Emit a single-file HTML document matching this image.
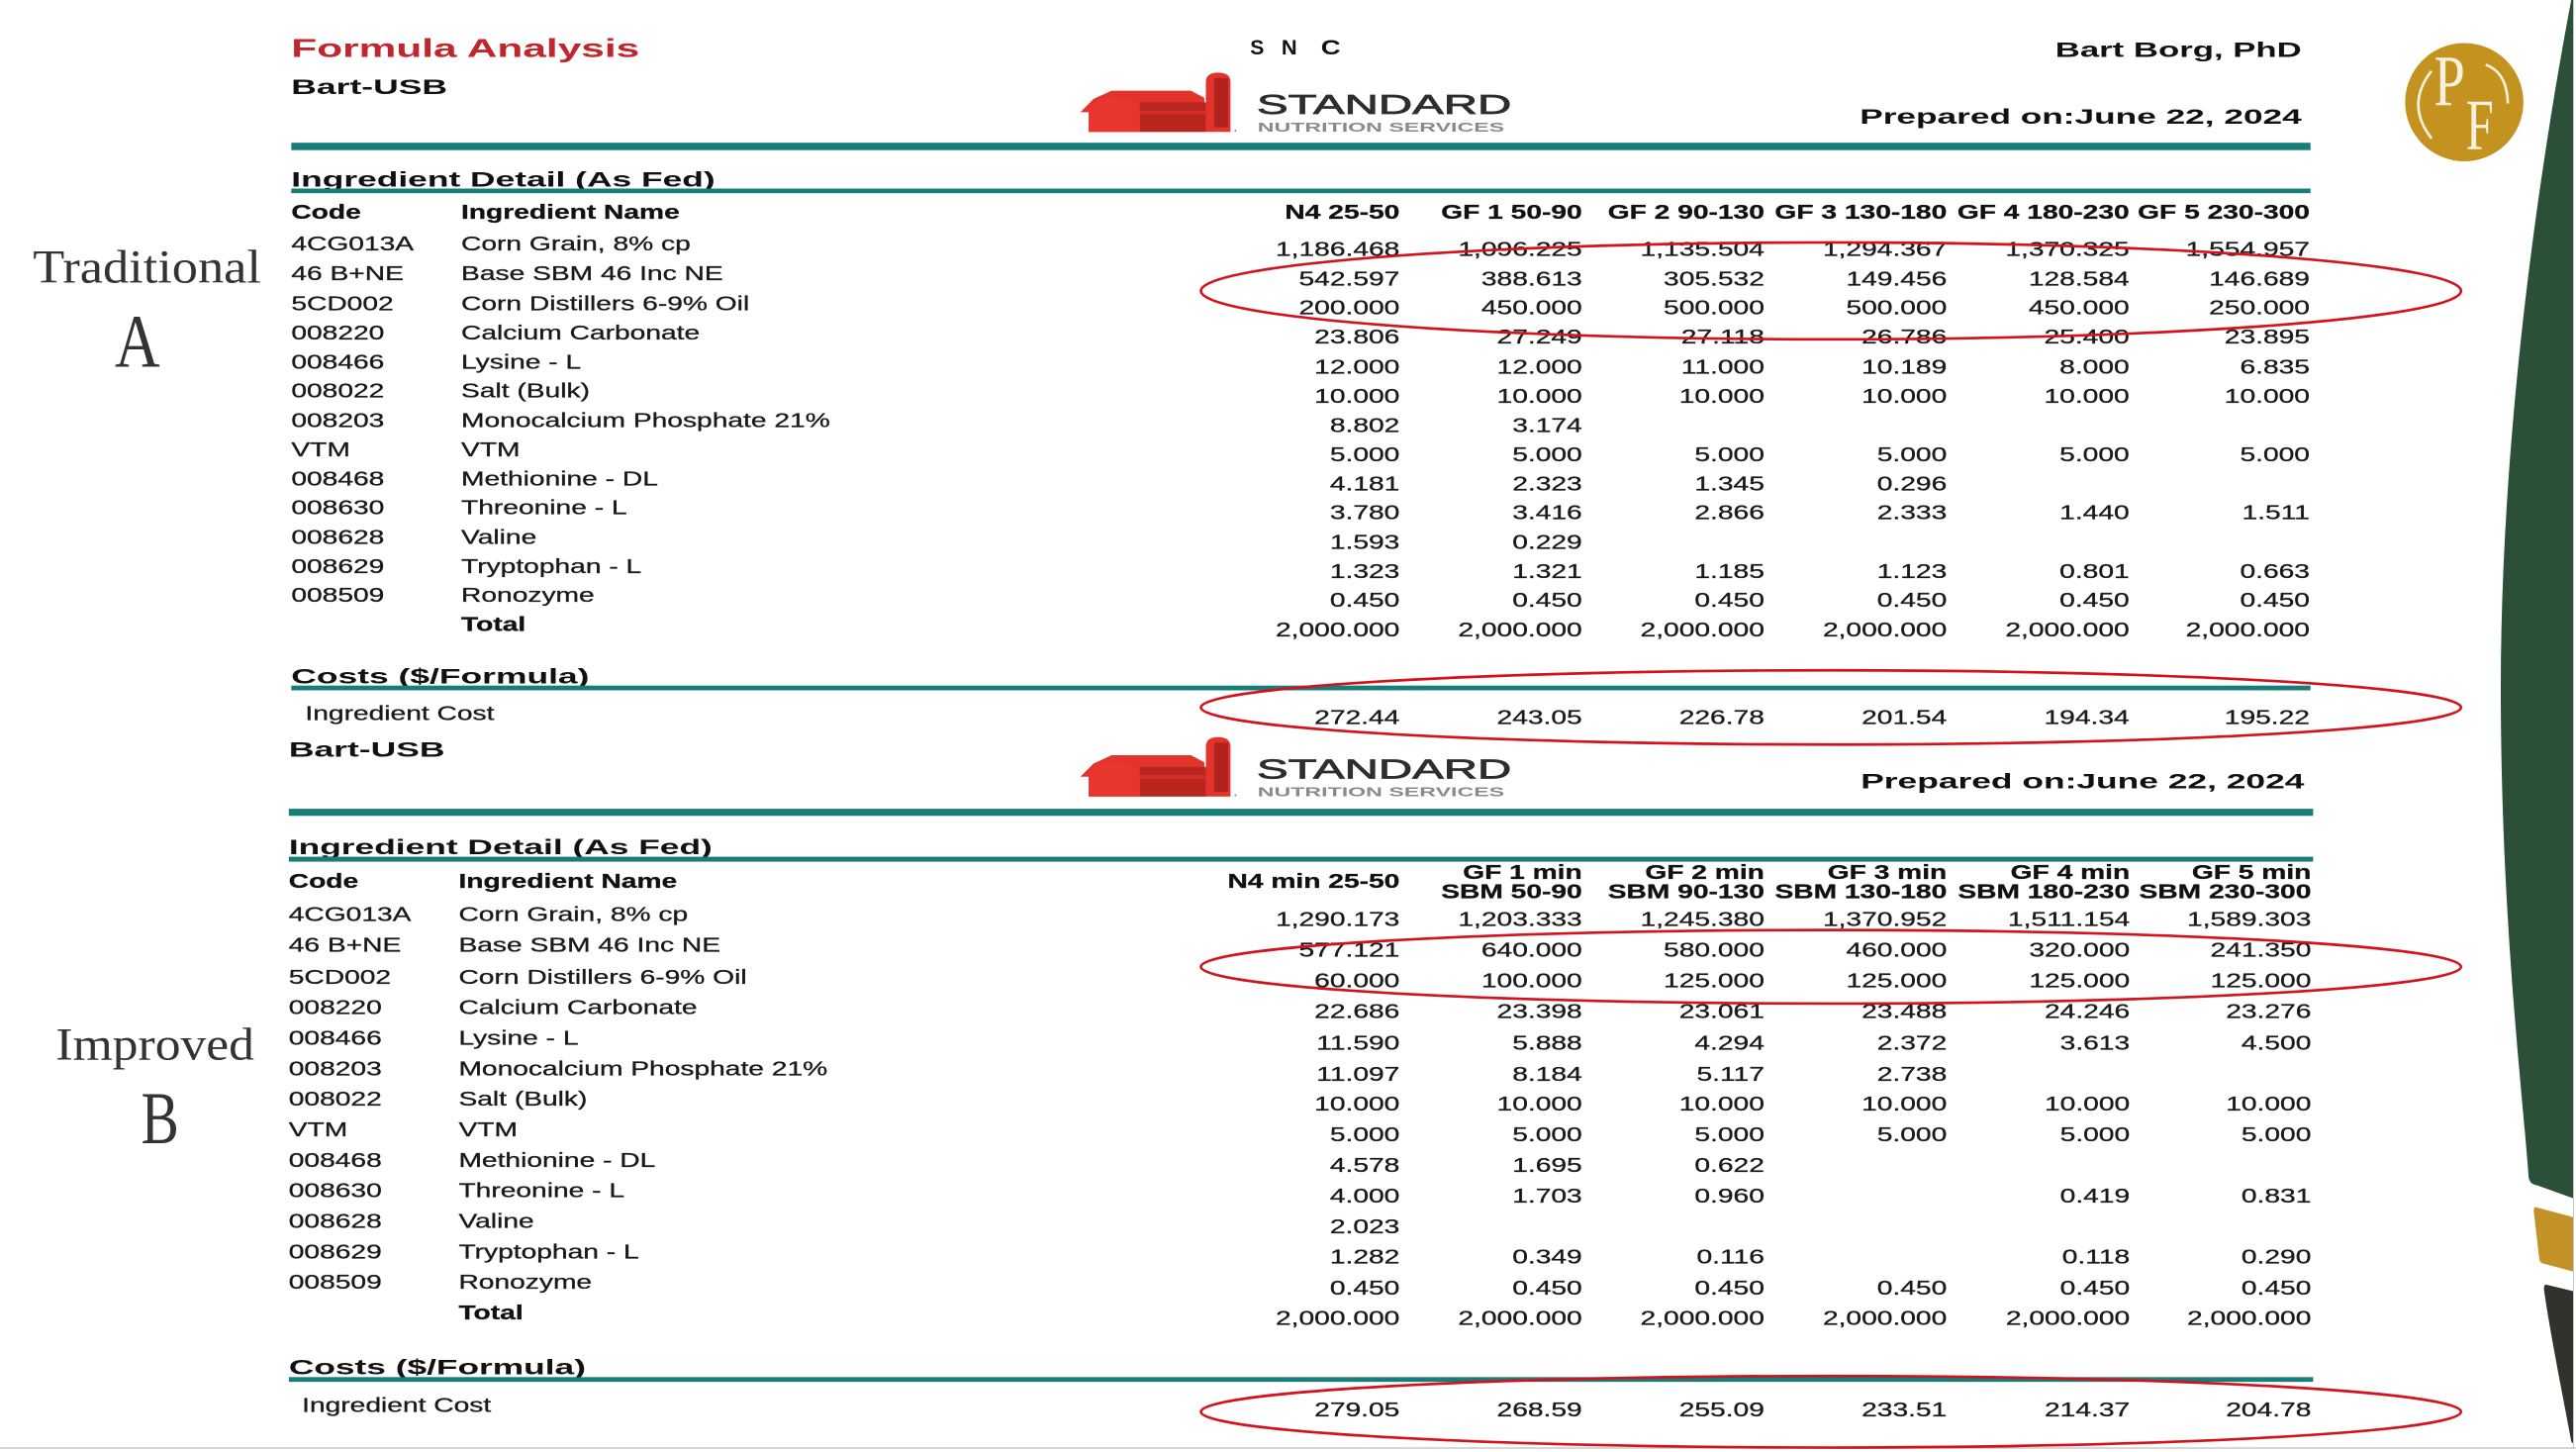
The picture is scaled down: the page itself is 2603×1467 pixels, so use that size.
<!DOCTYPE html>
<html>
<head>
<meta charset="utf-8">
<style>
html,body{margin:0;padding:0;background:#fff;}
svg{display:block;}
text{font-family:"Liberation Sans",Arial,sans-serif;}
.serif{font-family:"Liberation Serif","Times New Roman",serif;}
</style>
</head>
<body>
<svg width="2603" height="1467" viewBox="0 0 1568 884" preserveAspectRatio="none" xmlns="http://www.w3.org/2000/svg">
<rect x="0" y="0" width="1568" height="884" fill="#ffffff"/>

<!-- Right decorations -->
<path d="M1565.1,0 C1550,80 1522,250 1522.2,421.7 C1522.5,560 1535,660 1539.2,716.9 Q1540,721 1544,721.5 L1566.3,729.5 L1566.3,0 Z" fill="#2c4f38"/>
<path d="M1543.5,734.9 L1566.3,741 L1566.3,774.1 L1547.5,769.1 Q1545.8,768.5 1545.6,766 L1542.3,737.5 Q1542.2,734.7 1543.5,734.9 Z" fill="#c39227"/>
<path d="M1549.8,782.1 L1566.3,786.1 L1566.3,879 L1565.1,877.5 C1560,850 1552,810 1548.5,785 Q1548.4,782 1549.8,782.1 Z" fill="#33312c"/>
<line x1="1566.5" y1="0" x2="1566.5" y2="881.5" stroke="#c8c8c8" stroke-width="0.6"/>
<line x1="0" y1="881.6" x2="1568" y2="881.6" stroke="#bdbdbd" stroke-width="0.7"/>

<!-- PF logo -->
<circle cx="1500" cy="62.2" r="36" fill="#c4921f"/>
<text class="serif" x="1481.5" y="64.3" font-size="44" fill="#f7f0dc" textLength="19" lengthAdjust="spacingAndGlyphs">P</text>
<text class="serif" x="1500.9" y="90.7" font-size="44" fill="#f7f0dc" textLength="17" lengthAdjust="spacingAndGlyphs">F</text>
<path d="M1480,43.2 Q1464,63.8 1480.1,84.3" stroke="#f7f0dc" stroke-width="1.6" fill="none"/>
<path d="M1513,39.5 Q1526,44 1526.5,63" stroke="#f7f0dc" stroke-width="1.6" fill="none"/>

<!-- Left labels -->
<text class="serif" x="20" y="172" font-size="28.9" fill="#333" textLength="139" lengthAdjust="spacingAndGlyphs">Traditional</text>
<text class="serif" x="69.9" y="223.2" font-size="46" fill="#333" textLength="27.5" lengthAdjust="spacingAndGlyphs">A</text>
<text class="serif" x="34" y="645.1" font-size="28" fill="#333" textLength="120.8" lengthAdjust="spacingAndGlyphs">Improved</text>
<text class="serif" x="85.9" y="696" font-size="45" fill="#333" textLength="23" lengthAdjust="spacingAndGlyphs">B</text>

<!-- Barn logo definition -->
<defs>
<g id="barn">
  <polygon points="657.6,68.3 665.7,60.2 676.7,55.2 724.9,55.2 733,59.5 734,80.3 662.7,80.3 662.7,68.3" fill="#e3342c"/>
  <rect x="693.8" y="62.3" width="40.2" height="18" fill="#b8261f"/>
  <rect x="693.8" y="67.3" width="40.2" height="2.2" fill="#d42f27"/>
  <path d="M662.7,80.3 V66 Q666,60 676.7,59.5 Q689,60 693.8,66 V80.3 Z" fill="#e8352d"/>
  <path d="M734,80.3 V50 Q734,44.2 741.5,44.2 Q749,44.2 749,50 V80.3 Z" fill="#e3342c"/>
  <rect x="739" y="47.5" width="8.5" height="30" fill="#b3231d"/>
  <circle cx="752" cy="79.6" r="0.6" fill="#888"/>
  <text x="765" y="69.3" font-size="16.9" fill="#2e2e2e" stroke="#2e2e2e" stroke-width="0.45" textLength="155" lengthAdjust="spacingAndGlyphs">STANDARD</text>
  <text x="765.5" y="80.3" font-size="7.8" font-weight="bold" fill="#8a8a8a" textLength="150.2" lengthAdjust="spacingAndGlyphs">NUTRITION SERVICES</text>
</g>
</defs>

<!-- ===== TOP HEADER ===== -->
<text x="177.3" y="34.6" font-size="15.6" font-weight="bold" fill="#c0272d" textLength="212" lengthAdjust="spacingAndGlyphs">Formula Analysis</text>
<text x="177.3" y="57.2" font-size="12.6" font-weight="bold" fill="#111" textLength="95" lengthAdjust="spacingAndGlyphs">Bart-USB</text>
<text x="761" y="33.2" font-size="13" font-weight="bold" fill="#111" textLength="8.5" lengthAdjust="spacingAndGlyphs">S</text>
<text x="780" y="33.2" font-size="13" font-weight="bold" fill="#111" textLength="9.5" lengthAdjust="spacingAndGlyphs">N</text>
<text x="804" y="33.2" font-size="13" font-weight="bold" fill="#111" textLength="12" lengthAdjust="spacingAndGlyphs">C</text>
<text x="1251" y="34.6" font-size="12.6" font-weight="bold" fill="#111" textLength="150" lengthAdjust="spacingAndGlyphs">Bart Borg, PhD</text>
<text x="1132" y="75.3" font-size="12.6" font-weight="bold" fill="#111" textLength="269" lengthAdjust="spacingAndGlyphs">Prepared on:June 22, 2024</text>
<use href="#barn"/>
<rect x="177.3" y="86.9" width="1229.1" height="4.5" fill="#167d78"/>

<text x="177.3" y="113.7" font-size="13" font-weight="bold" fill="#111" textLength="258" lengthAdjust="spacingAndGlyphs">Ingredient Detail (As Fed)</text>
<rect x="177.3" y="114.8" width="1229.1" height="2.8" fill="#167d78"/>

<text x="177.3" y="416.1" font-size="13" font-weight="bold" fill="#111" textLength="181.4" lengthAdjust="spacingAndGlyphs">Costs ($/Formula)</text>
<rect x="177.3" y="417.4" width="1229.1" height="2.9" fill="#167d78"/>

<g transform="scale(1.415 1)" font-size="12" fill="#1a1a1a" stroke="#1a1a1a" stroke-width="0.18">
  <text x="125.3" y="133.3" font-weight="bold" fill="#111">Code</text>
  <text x="198.4" y="133.3" font-weight="bold" fill="#111">Ingredient Name</text>
  <text y="133.3" font-weight="bold" fill="#111" text-anchor="end"><tspan x="602.1">N4 25-50</tspan><tspan x="680.6">GF 1 50-90</tspan><tspan x="759.0">GF 2 90-130</tspan><tspan x="837.5">GF 3 130-180</tspan><tspan x="916.0">GF 4 180-230</tspan><tspan x="993.6">GF 5 230-300</tspan></text>

  <text y="152.4"><tspan x="125.3">4CG013A</tspan><tspan x="198.4">Corn Grain, 8% cp</tspan></text>
  <text y="170.4"><tspan x="125.3">46 B+NE</tspan><tspan x="198.4">Base SBM 46 Inc NE</tspan></text>
  <text y="188.8"><tspan x="125.3">5CD002</tspan><tspan x="198.4">Corn Distillers 6-9% Oil</tspan></text>
  <text y="206.7"><tspan x="125.3">008220</tspan><tspan x="198.4">Calcium Carbonate</tspan></text>
  <text y="224.5"><tspan x="125.3">008466</tspan><tspan x="198.4">Lysine - L</tspan></text>
  <text y="242.0"><tspan x="125.3">008022</tspan><tspan x="198.4">Salt (Bulk)</tspan></text>
  <text y="260.0"><tspan x="125.3">008203</tspan><tspan x="198.4">Monocalcium Phosphate 21%</tspan></text>
  <text y="277.7"><tspan x="125.3">VTM</tspan><tspan x="198.4">VTM</tspan></text>
  <text y="295.5"><tspan x="125.3">008468</tspan><tspan x="198.4">Methionine - DL</tspan></text>
  <text y="313.2"><tspan x="125.3">008630</tspan><tspan x="198.4">Threonine - L</tspan></text>
  <text y="331.0"><tspan x="125.3">008628</tspan><tspan x="198.4">Valine</tspan></text>
  <text y="348.8"><tspan x="125.3">008629</tspan><tspan x="198.4">Tryptophan - L</tspan></text>
  <text y="366.5"><tspan x="125.3">008509</tspan><tspan x="198.4">Ronozyme</tspan></text>
  <text x="198.4" y="384.3" font-weight="bold" fill="#111">Total</text>

  <text y="155.8" text-anchor="end"><tspan x="602.1">1,186.468</tspan><tspan x="680.6">1,096.225</tspan><tspan x="759.0">1,135.504</tspan><tspan x="837.5">1,294.367</tspan><tspan x="916.0">1,370.325</tspan><tspan x="993.6">1,554.957</tspan></text>
  <text y="173.8" text-anchor="end"><tspan x="602.1">542.597</tspan><tspan x="680.6">388.613</tspan><tspan x="759.0">305.532</tspan><tspan x="837.5">149.456</tspan><tspan x="916.0">128.584</tspan><tspan x="993.6">146.689</tspan></text>
  <text y="191.3" text-anchor="end"><tspan x="602.1">200.000</tspan><tspan x="680.6">450.000</tspan><tspan x="759.0">500.000</tspan><tspan x="837.5">500.000</tspan><tspan x="916.0">450.000</tspan><tspan x="993.6">250.000</tspan></text>
  <text y="209.1" text-anchor="end"><tspan x="602.1">23.806</tspan><tspan x="680.6">27.249</tspan><tspan x="759.0">27.118</tspan><tspan x="837.5">26.786</tspan><tspan x="916.0">25.400</tspan><tspan x="993.6">23.895</tspan></text>
  <text y="227.5" text-anchor="end"><tspan x="602.1">12.000</tspan><tspan x="680.6">12.000</tspan><tspan x="759.0">11.000</tspan><tspan x="837.5">10.189</tspan><tspan x="916.0">8.000</tspan><tspan x="993.6">6.835</tspan></text>
  <text y="245.3" text-anchor="end"><tspan x="602.1">10.000</tspan><tspan x="680.6">10.000</tspan><tspan x="759.0">10.000</tspan><tspan x="837.5">10.000</tspan><tspan x="916.0">10.000</tspan><tspan x="993.6">10.000</tspan></text>
  <text y="263.0" text-anchor="end"><tspan x="602.1">8.802</tspan><tspan x="680.6">3.174</tspan></text>
  <text y="280.7" text-anchor="end"><tspan x="602.1">5.000</tspan><tspan x="680.6">5.000</tspan><tspan x="759.0">5.000</tspan><tspan x="837.5">5.000</tspan><tspan x="916.0">5.000</tspan><tspan x="993.6">5.000</tspan></text>
  <text y="298.5" text-anchor="end"><tspan x="602.1">4.181</tspan><tspan x="680.6">2.323</tspan><tspan x="759.0">1.345</tspan><tspan x="837.5">0.296</tspan></text>
  <text y="316.2" text-anchor="end"><tspan x="602.1">3.780</tspan><tspan x="680.6">3.416</tspan><tspan x="759.0">2.866</tspan><tspan x="837.5">2.333</tspan><tspan x="916.0">1.440</tspan><tspan x="993.6">1.511</tspan></text>
  <text y="334.0" text-anchor="end"><tspan x="602.1">1.593</tspan><tspan x="680.6">0.229</tspan></text>
  <text y="351.8" text-anchor="end"><tspan x="602.1">1.323</tspan><tspan x="680.6">1.321</tspan><tspan x="759.0">1.185</tspan><tspan x="837.5">1.123</tspan><tspan x="916.0">0.801</tspan><tspan x="993.6">0.663</tspan></text>
  <text y="369.5" text-anchor="end"><tspan x="602.1">0.450</tspan><tspan x="680.6">0.450</tspan><tspan x="759.0">0.450</tspan><tspan x="837.5">0.450</tspan><tspan x="916.0">0.450</tspan><tspan x="993.6">0.450</tspan></text>
  <text y="387.4" text-anchor="end"><tspan x="602.1">2,000.000</tspan><tspan x="680.6">2,000.000</tspan><tspan x="759.0">2,000.000</tspan><tspan x="837.5">2,000.000</tspan><tspan x="916.0">2,000.000</tspan><tspan x="993.6">2,000.000</tspan></text>

  <text x="131.3" y="438.3">Ingredient Cost</text>
  <text y="440.8" text-anchor="end"><tspan x="602.1">272.44</tspan><tspan x="680.6">243.05</tspan><tspan x="759.0">226.78</tspan><tspan x="837.5">201.54</tspan><tspan x="916.0">194.34</tspan><tspan x="993.6">195.22</tspan></text>
</g>

<!-- ===== BOTTOM HEADER ===== -->
<text x="175.8" y="460.7" font-size="12.6" font-weight="bold" fill="#111" textLength="95" lengthAdjust="spacingAndGlyphs">Bart-USB</text>
<text x="1132.6" y="479.9" font-size="12.6" font-weight="bold" fill="#111" textLength="270" lengthAdjust="spacingAndGlyphs">Prepared on:June 22, 2024</text>
<use href="#barn" transform="translate(0 404.6)"/>
<rect x="175.8" y="492.4" width="1232.2" height="4.3" fill="#167d78"/>

<text x="175.8" y="520.0" font-size="13" font-weight="bold" fill="#111" textLength="257.8" lengthAdjust="spacingAndGlyphs">Ingredient Detail (As Fed)</text>
<rect x="175.8" y="521.6" width="1232.2" height="3" fill="#167d78"/>

<text x="175.8" y="836.6" font-size="13" font-weight="bold" fill="#111" textLength="180.8" lengthAdjust="spacingAndGlyphs">Costs ($/Formula)</text>
<rect x="175.8" y="838.4" width="1232.2" height="2.9" fill="#167d78"/>

<g transform="scale(1.415 1)" font-size="12" fill="#1a1a1a" stroke="#1a1a1a" stroke-width="0.18">
  <text x="124.2" y="540.6" font-weight="bold" fill="#111">Code</text>
  <text x="197.3" y="540.6" font-weight="bold" fill="#111">Ingredient Name</text>
  <text x="602.1" y="540.6" font-weight="bold" fill="#111" text-anchor="end">N4 min 25-50</text>
  <text y="535.0" font-weight="bold" fill="#111" text-anchor="end"><tspan x="680.6">GF 1 min</tspan><tspan x="759.0">GF 2 min</tspan><tspan x="837.5">GF 3 min</tspan><tspan x="916.2">GF 4 min</tspan><tspan x="994.2">GF 5 min</tspan></text>
  <text y="546.8" font-weight="bold" fill="#111" text-anchor="end"><tspan x="680.6">SBM 50-90</tspan><tspan x="759.0">SBM 90-130</tspan><tspan x="837.5">SBM 130-180</tspan><tspan x="916.2">SBM 180-230</tspan><tspan x="994.2">SBM 230-300</tspan></text>

  <text y="560.7"><tspan x="124.2">4CG013A</tspan><tspan x="197.3">Corn Grain, 8% cp</tspan></text>
  <text y="579.4"><tspan x="124.2">46 B+NE</tspan><tspan x="197.3">Base SBM 46 Inc NE</tspan></text>
  <text y="598.9"><tspan x="124.2">5CD002</tspan><tspan x="197.3">Corn Distillers 6-9% Oil</tspan></text>
  <text y="617.4"><tspan x="124.2">008220</tspan><tspan x="197.3">Calcium Carbonate</tspan></text>
  <text y="636.0"><tspan x="124.2">008466</tspan><tspan x="197.3">Lysine - L</tspan></text>
  <text y="654.7"><tspan x="124.2">008203</tspan><tspan x="197.3">Monocalcium Phosphate 21%</tspan></text>
  <text y="673.2"><tspan x="124.2">008022</tspan><tspan x="197.3">Salt (Bulk)</tspan></text>
  <text y="691.8"><tspan x="124.2">VTM</tspan><tspan x="197.3">VTM</tspan></text>
  <text y="710.5"><tspan x="124.2">008468</tspan><tspan x="197.3">Methionine - DL</tspan></text>
  <text y="728.9"><tspan x="124.2">008630</tspan><tspan x="197.3">Threonine - L</tspan></text>
  <text y="747.6"><tspan x="124.2">008628</tspan><tspan x="197.3">Valine</tspan></text>
  <text y="766.3"><tspan x="124.2">008629</tspan><tspan x="197.3">Tryptophan - L</tspan></text>
  <text y="784.7"><tspan x="124.2">008509</tspan><tspan x="197.3">Ronozyme</tspan></text>
  <text x="197.3" y="803.4" font-weight="bold" fill="#111">Total</text>

  <text y="563.8" text-anchor="end"><tspan x="602.1">1,290.173</tspan><tspan x="680.6">1,203.333</tspan><tspan x="759.0">1,245.380</tspan><tspan x="837.5">1,370.952</tspan><tspan x="916.2">1,511.154</tspan><tspan x="994.2">1,589.303</tspan></text>
  <text y="582.5" text-anchor="end"><tspan x="602.1">577.121</tspan><tspan x="680.6">640.000</tspan><tspan x="759.0">580.000</tspan><tspan x="837.5">460.000</tspan><tspan x="916.2">320.000</tspan><tspan x="994.2">241.350</tspan></text>
  <text y="601.2" text-anchor="end"><tspan x="602.1">60.000</tspan><tspan x="680.6">100.000</tspan><tspan x="759.0">125.000</tspan><tspan x="837.5">125.000</tspan><tspan x="916.2">125.000</tspan><tspan x="994.2">125.000</tspan></text>
  <text y="619.9" text-anchor="end"><tspan x="602.1">22.686</tspan><tspan x="680.6">23.398</tspan><tspan x="759.0">23.061</tspan><tspan x="837.5">23.488</tspan><tspan x="916.2">24.246</tspan><tspan x="994.2">23.276</tspan></text>
  <text y="639.2" text-anchor="end"><tspan x="602.1">11.590</tspan><tspan x="680.6">5.888</tspan><tspan x="759.0">4.294</tspan><tspan x="837.5">2.372</tspan><tspan x="916.2">3.613</tspan><tspan x="994.2">4.500</tspan></text>
  <text y="657.9" text-anchor="end"><tspan x="602.1">11.097</tspan><tspan x="680.6">8.184</tspan><tspan x="759.0">5.117</tspan><tspan x="837.5">2.738</tspan></text>
  <text y="676.2" text-anchor="end"><tspan x="602.1">10.000</tspan><tspan x="680.6">10.000</tspan><tspan x="759.0">10.000</tspan><tspan x="837.5">10.000</tspan><tspan x="916.2">10.000</tspan><tspan x="994.2">10.000</tspan></text>
  <text y="694.9" text-anchor="end"><tspan x="602.1">5.000</tspan><tspan x="680.6">5.000</tspan><tspan x="759.0">5.000</tspan><tspan x="837.5">5.000</tspan><tspan x="916.2">5.000</tspan><tspan x="994.2">5.000</tspan></text>
  <text y="713.6" text-anchor="end"><tspan x="602.1">4.578</tspan><tspan x="680.6">1.695</tspan><tspan x="759.0">0.622</tspan></text>
  <text y="732.3" text-anchor="end"><tspan x="602.1">4.000</tspan><tspan x="680.6">1.703</tspan><tspan x="759.0">0.960</tspan><tspan x="916.2">0.419</tspan><tspan x="994.2">0.831</tspan></text>
  <text y="750.7" text-anchor="end"><tspan x="602.1">2.023</tspan></text>
  <text y="769.3" text-anchor="end"><tspan x="602.1">1.282</tspan><tspan x="680.6">0.349</tspan><tspan x="759.0">0.116</tspan><tspan x="916.2">0.118</tspan><tspan x="994.2">0.290</tspan></text>
  <text y="788.1" text-anchor="end"><tspan x="602.1">0.450</tspan><tspan x="680.6">0.450</tspan><tspan x="759.0">0.450</tspan><tspan x="837.5">0.450</tspan><tspan x="916.2">0.450</tspan><tspan x="994.2">0.450</tspan></text>
  <text y="806.5" text-anchor="end"><tspan x="602.1">2,000.000</tspan><tspan x="680.6">2,000.000</tspan><tspan x="759.0">2,000.000</tspan><tspan x="837.5">2,000.000</tspan><tspan x="916.2">2,000.000</tspan><tspan x="994.2">2,000.000</tspan></text>

  <text x="129.9" y="859.7">Ingredient Cost</text>
  <text y="862.3" text-anchor="end"><tspan x="602.1">279.05</tspan><tspan x="680.6">268.59</tspan><tspan x="759.0">255.09</tspan><tspan x="837.5">233.51</tspan><tspan x="916.2">214.37</tspan><tspan x="994.2">204.78</tspan></text>
</g>

<!-- Red ellipses -->
<g fill="none" stroke="#d4121c" stroke-width="1.6">
  <ellipse cx="1114.5" cy="177.1" rx="383.5" ry="29.5"/>
  <ellipse cx="1114.5" cy="430.7" rx="383.5" ry="22.6"/>
  <ellipse cx="1114.5" cy="588.6" rx="383.5" ry="22.4"/>
  <ellipse cx="1114.5" cy="859.5" rx="383.5" ry="21.8"/>
</g>
</svg>
</body>
</html>
